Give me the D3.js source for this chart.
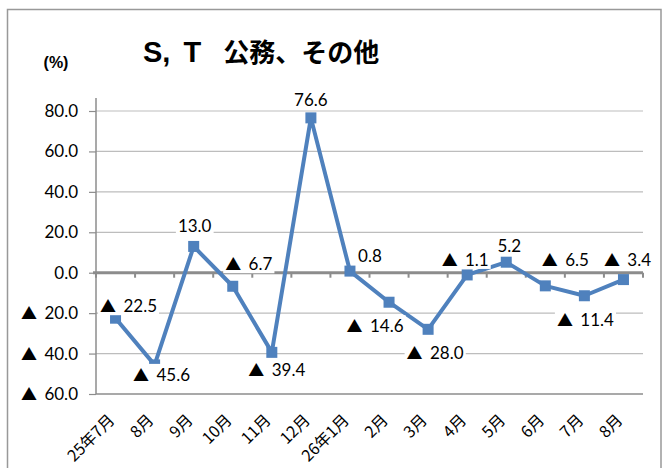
<!DOCTYPE html>
<html><head><meta charset="utf-8">
<script src="https://cdn.jsdelivr.net/npm/d3@7"></script>
<style>body{margin:0;background:#fff}svg{display:block}</style>
</head><body>
<script>
const categories = ["25年7月","8月","9月","10月","11月","12月","26年1月","2月","3月","4月","5月","6月","7月","8月"];
const values = [-22.5,-45.6,13.0,-6.7,-39.4,76.6,0.8,-14.6,-28.0,-1.1,5.2,-6.5,-11.4,-3.4];
const yTicks = [80,60,40,20,0,-20,-40,-60];
const titleLatin = ["S,", "T"];
const titleJa = "公務、その他";
const unit = "(%)";
// label placement relative to point (layout)
const labelOffsets = [[13,-13],[7,9],[1,-21],[16,-23],[5,17],[0,-19],[20,-16],[-14,23],[7,23],[-2,-16],[3,-17],[20,-27],[1,23],[4,-21]];

const W=670,H=468;
const svg=d3.select("body").append("svg").attr("width",W).attr("height",H);
svg.append("rect").attr("x",7.5).attr("y",9.5).attr("width",653.5).attr("height",470).attr("fill","#fff").attr("stroke","#999").attr("stroke-width",1.5);

const x=d3.scaleBand().domain(d3.range(categories.length)).range([96,643]);
const y=d3.scaleLinear().domain([-60,80]).range([394,111]);
const num=v=>d3.format(".1f")(Math.abs(v));
const numFont="Lato, 'Open Sans', sans-serif";
const triFont="'Noto Sans CJK JP', sans-serif";
function writeVal(sel,v,triSize){
  sel.text(null);
  if(v<0){
    sel.append("tspan").attr("font-family",triFont).attr("font-size",triSize).text("▲");
    sel.append("tspan").attr("dx",3).text(" "+num(v));
  } else sel.append("tspan").text(num(v));
}

// gridlines
svg.append("g").selectAll("line").data(yTicks.filter(t=>t!==0 && t!==-60)).join("line")
  .attr("x1",96).attr("x2",643).attr("y1",d=>y(d)).attr("y2",d=>y(d))
  .attr("stroke","#bdbdbd").attr("stroke-width",1.2);
svg.append("line").attr("x1",96).attr("x2",643).attr("y1",y(-60)).attr("y2",y(-60)).attr("stroke","#8c8c8c").attr("stroke-width",1.5);

// y axis
const yAxis=d3.axisLeft(y).tickValues(yTicks).tickSize(7).tickPadding(11);
const gy=svg.append("g").attr("transform","translate(96,0)").call(yAxis);
gy.select(".domain").attr("d","M0,98V394").attr("stroke","#8c8c8c").attr("stroke-width",1.5);
gy.selectAll(".tick line").attr("stroke","#8c8c8c").attr("stroke-width",1.2);
gy.selectAll(".tick text").attr("font-family",numFont).attr("font-size",17).attr("fill","#000")
  .each(function(d){ writeVal(d3.select(this),d,16); });

// zero axis with category ticks
const gx=svg.append("g").attr("transform",`translate(0,${y(0)})`);
gx.append("line").attr("x1",93).attr("x2",643).attr("stroke","#8c8c8c").attr("stroke-width",3);
gx.selectAll("line.t").data(d3.range(categories.length+1)).join("line").attr("class","t")
  .attr("x1",i=>96+i*x.step()).attr("x2",i=>96+i*x.step()).attr("y1",0).attr("y2",5)
  .attr("stroke","#8c8c8c").attr("stroke-width",2);

// x labels
svg.append("g").selectAll("text").data(categories).join("text")
  .attr("transform",(d,i)=>`translate(${x(i)+x.bandwidth()/2-3},${418}) rotate(-45)`)
  .attr("text-anchor","end").attr("dominant-baseline","middle")
  .attr("font-family","'Noto Sans CJK JP', sans-serif").attr("font-size",16).attr("fill","#000")
  .text(d=>d);

// line
const cx=i=>x(i)+x.bandwidth()/2;
svg.append("path").datum(values).attr("fill","none").attr("stroke","#4F81BD").attr("stroke-width",4).attr("stroke-linejoin","round")
  .attr("d",d3.line().x((d,i)=>cx(i)).y(d=>y(d)));
svg.append("g").selectAll("rect").data(values).join("rect")
  .attr("x",(d,i)=>cx(i)-5.5).attr("y",d=>y(d)-5.5).attr("width",11).attr("height",11).attr("fill","#4F81BD");

// data labels
const lg=svg.append("g");
values.forEach((v,i)=>{
  const g=lg.append("g").attr("transform",`translate(${cx(i)+labelOffsets[i][0]},${y(v)+labelOffsets[i][1]})`);
  const bg=g.append("rect").attr("fill","#fff");
  const t=g.append("text").attr("text-anchor","middle").attr("dominant-baseline","central")
    .attr("font-family",numFont).attr("font-size",17).attr("fill","#000");
  writeVal(t,v,16);
  const b=t.node().getBBox();
  bg.attr("x",b.x-2).attr("y",b.y+2).attr("width",b.width+4).attr("height",b.height-4);
});

// title
const tt=svg.append("text").attr("x",143).attr("y",62).attr("font-weight","bold").attr("fill","#000");
tt.append("tspan").attr("font-family","'Liberation Sans', Arial, sans-serif").attr("font-size",29).text(titleLatin[0]);
tt.append("tspan").attr("dx",13).attr("font-family","'Liberation Sans', Arial, sans-serif").attr("font-size",29).text(titleLatin[1]);
tt.append("tspan").attr("dx",22).attr("font-family","'Noto Sans CJK JP', sans-serif").attr("font-size",26).text(titleJa);
svg.append("text").attr("x",56).attr("y",68).attr("text-anchor","middle")
  .attr("font-family","'Liberation Sans', Arial, sans-serif").attr("font-weight","bold").attr("font-size",16).text(unit);
</script>
</body></html>
